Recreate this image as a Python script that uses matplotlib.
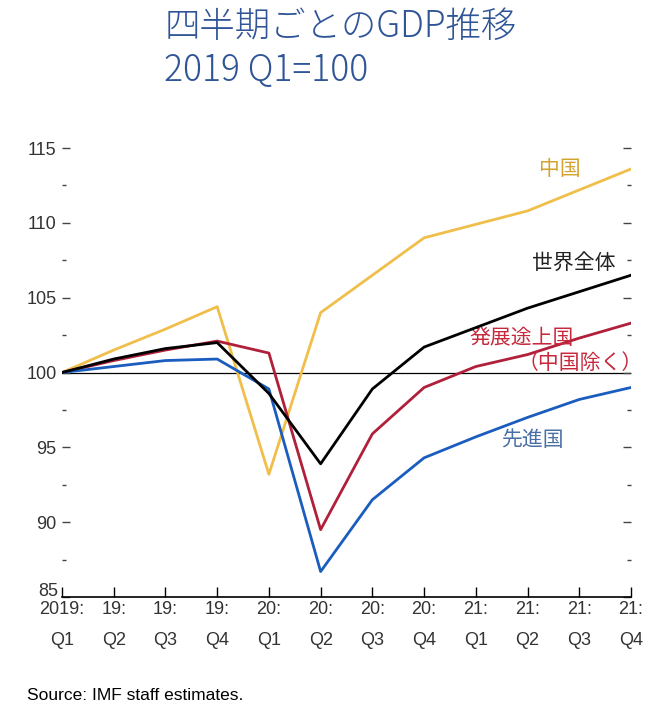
import numpy as np
import matplotlib.pyplot as plt
from matplotlib.ticker import MultipleLocator

plt.rcParams['font.family'] = ['Liberation Sans', 'Noto Sans CJK JP', 'DejaVu Sans']

# Quarters 2019Q1 .. 2021Q4
quarters = ["2019:\nQ1", "19:\nQ2", "19:\nQ3", "19:\nQ4",
            "20:\nQ1", "20:\nQ2", "20:\nQ3", "20:\nQ4",
            "21:\nQ1", "21:\nQ2", "21:\nQ3", "21:\nQ4"]
yticks = [85, 90, 95, 100, 105, 110, 115]

china = [100, 101.5, 102.9, 104.4, 93.2, 104.0, 106.5, 109.0, 109.9, 110.8, 112.2, 113.6]
world = [100, 100.9, 101.6, 102.0, 98.6, 93.9, 98.9, 101.7, 103.0, 104.3, 105.4, 106.5]
emerging = [100, 100.8, 101.5, 102.1, 101.3, 89.5, 95.9, 99.0, 100.4, 101.2, 102.3, 103.3]
advanced = [100, 100.4, 100.8, 100.9, 98.9, 86.7, 91.5, 94.3, 95.7, 97.0, 98.2, 99.0]

x = np.arange(len(quarters))

fig = plt.figure(figsize=(6.7, 7.12), dpi=100)
ax = fig.add_axes([0.0925, 0.1615, 0.8493, 0.6306])

ax.axhline(100, color='black', lw=0.9, zorder=1)
ax.plot(x, china, color='#F0BE4A', lw=2.0, zorder=3)
ax.plot(x, world, color='black', lw=2.0, zorder=4)
ax.plot(x, emerging, color='#B0203A', lw=2.0, zorder=3)
ax.plot(x, advanced, color='#1A5DBE', lw=2.0, zorder=3)

ax.set_xlim(0, 11)
ax.set_ylim(85, 115)

# spines: only bottom
for s in ['top', 'left', 'right']:
    ax.spines[s].set_visible(False)
ax.spines['bottom'].set_linewidth(1.2)

ax.set_xticks(x)
ax.set_xticklabels(quarters, fontsize=13, color='#333333', linespacing=2.05)
ax.tick_params(axis='x', direction='in', length=7, width=1, pad=3)

ax.set_yticks(yticks)
# lowest label is drawn separately, a little higher, as in the original
ax.set_yticklabels([""] + [str(v) for v in yticks[1:]])
ax.yaxis.set_minor_locator(MultipleLocator(2.5))
ax.tick_params(axis='y', which='major', direction='in', length=6, width=1,
               labelsize=13, labelcolor='#333333', pad=4, right=True, color='#444444')
ax.tick_params(axis='y', which='minor', direction='in', length=3, width=1,
               right=True, color='#444444')
ax.annotate(str(yticks[0]), xy=(0, yticks[0]), xycoords=('axes fraction', 'data'),
            xytext=(-3, 4), textcoords='offset points', ha='right', va='center',
            fontsize=13, color='#333333')

# series labels
ax.text(9.63, 113.6, "中国", color='#D4A32E', fontsize=15, ha='center', va='center')
ax.text(9.9, 107.3, "世界全体", color='#222222', fontsize=15, ha='center', va='center')
ax.text(8.88, 102.3, "発展途上国", color='#C8283C', fontsize=15, ha='center', va='center')
ax.text(10.02, 100.6, "（中国除く）", color='#C8283C', fontsize=15, ha='center', va='center')
ax.text(9.09, 95.5, "先進国", color='#4A6FA5', fontsize=15, ha='center', va='center')

# title
fig.text(0.245, 0.962, "四半期ごとのGDP推移", color='#2F5597', fontsize=25.5, va='center',
         family=['Noto Sans CJK JP', 'DejaVu Sans'], fontweight='light')
fig.text(0.245, 0.900, "2019 Q1=100", color='#2F5597', fontsize=25.5, va='center',
         family=['Noto Sans CJK JP', 'DejaVu Sans'], fontweight='light')

fig.text(0.04, 0.017, "Source: IMF staff estimates.", fontsize=12.5, color='black')

fig.savefig("out.png", dpi=100)
